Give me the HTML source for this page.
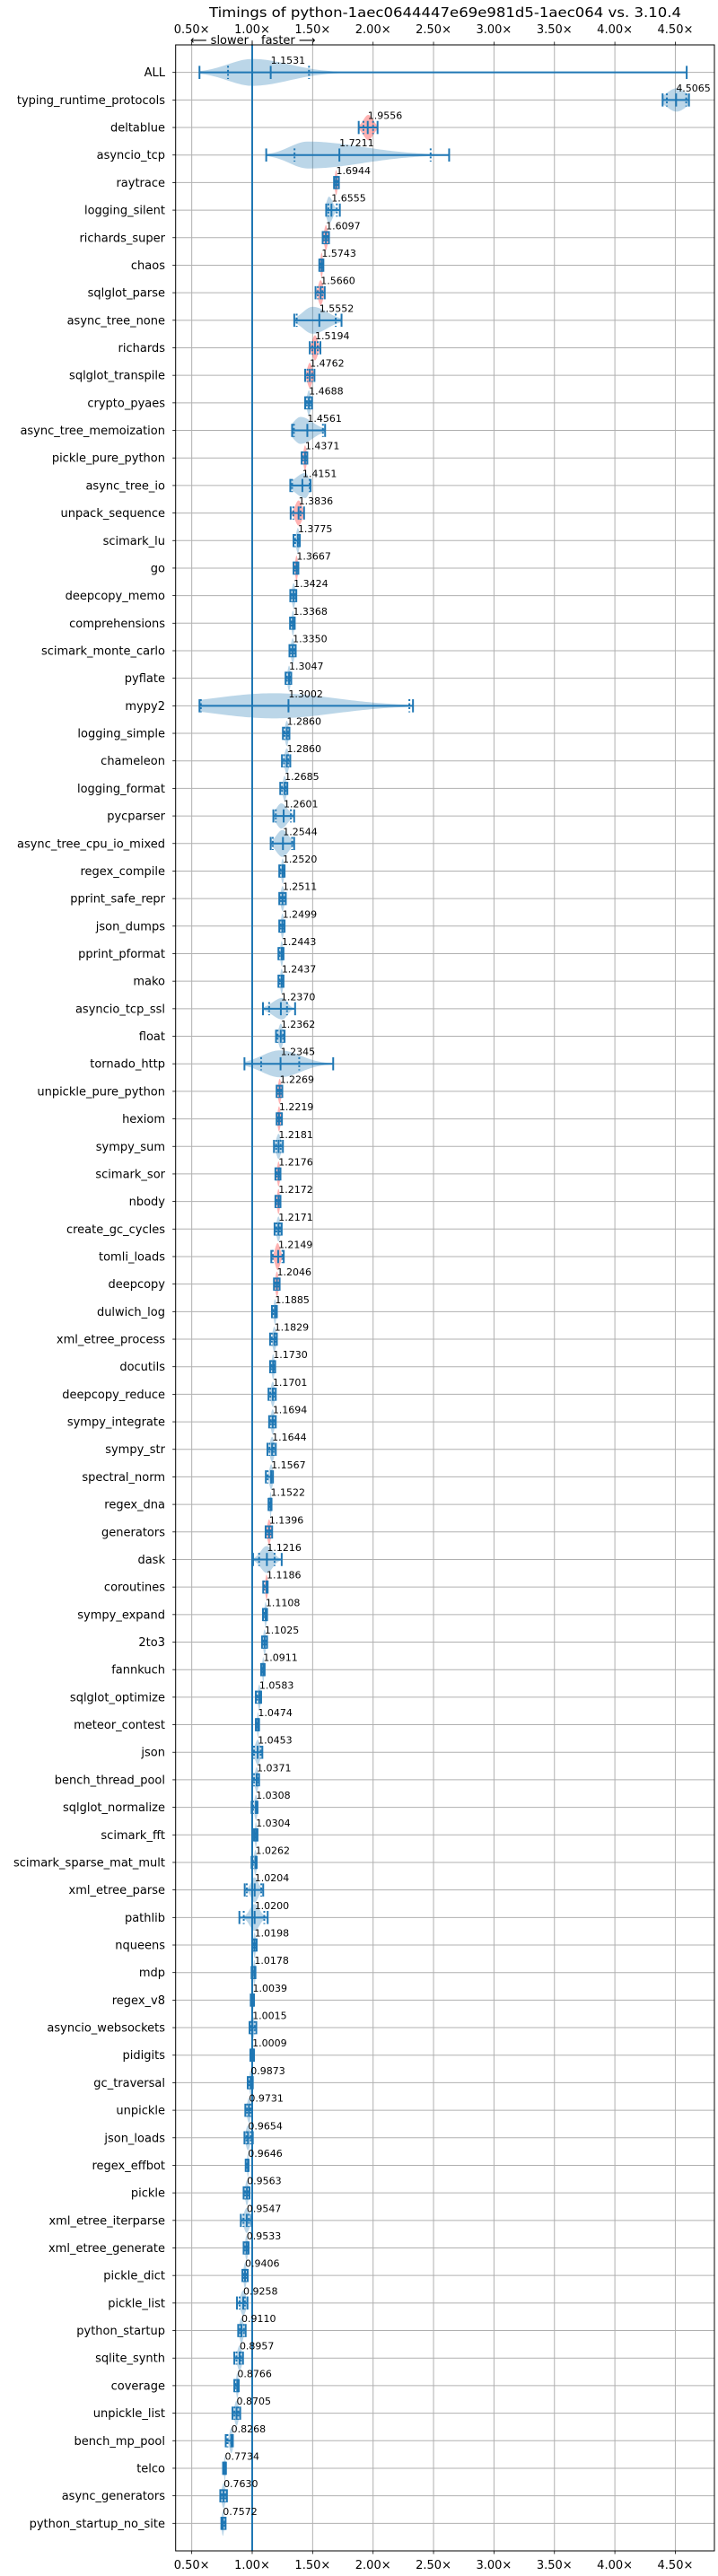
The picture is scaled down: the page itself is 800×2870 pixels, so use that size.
<!DOCTYPE html>
<html><head><meta charset="utf-8"><title>Timings chart</title>
<style>
html,body{margin:0;padding:0;background:#fff;}
svg{display:block;font-family:"DejaVu Sans","Liberation Sans",sans-serif;}
</style></head>
<body>
<svg id="chart" width="800" height="2870" viewBox="0 0 800 2870" xmlns="http://www.w3.org/2000/svg">
<rect x="0" y="0" width="800" height="2870" fill="#fff"/>
<text x="496" y="19" text-anchor="middle" font-size="15" textLength="526" lengthAdjust="spacingAndGlyphs">Timings of python-1aec0644447e69e981d5-1aec064 vs. 3.10.4</text>
<g id="grid"></g>
<g id="violins"></g>
<g id="axes"></g>
</svg>
<script>
const benchmarks = ["ALL","typing_runtime_protocols","deltablue","asyncio_tcp","raytrace","logging_silent","richards_super","chaos","sqlglot_parse","async_tree_none","richards","sqlglot_transpile","crypto_pyaes","async_tree_memoization","pickle_pure_python","async_tree_io","unpack_sequence","scimark_lu","go","deepcopy_memo","comprehensions","scimark_monte_carlo","pyflate","mypy2","logging_simple","chameleon","logging_format","pycparser","async_tree_cpu_io_mixed","regex_compile","pprint_safe_repr","json_dumps","pprint_pformat","mako","asyncio_tcp_ssl","float","tornado_http","unpickle_pure_python","hexiom","sympy_sum","scimark_sor","nbody","create_gc_cycles","tomli_loads","deepcopy","dulwich_log","xml_etree_process","docutils","deepcopy_reduce","sympy_integrate","sympy_str","spectral_norm","regex_dna","generators","dask","coroutines","sympy_expand","2to3","fannkuch","sqlglot_optimize","meteor_contest","json","bench_thread_pool","sqlglot_normalize","scimark_fft","scimark_sparse_mat_mult","xml_etree_parse","pathlib","nqueens","mdp","regex_v8","asyncio_websockets","pidigits","gc_traversal","unpickle","json_loads","regex_effbot","pickle","xml_etree_iterparse","xml_etree_generate","pickle_dict","pickle_list","python_startup","sqlite_synth","coverage","unpickle_list","bench_mp_pool","telco","async_generators","python_startup_no_site"];
const medians = [1.1531,4.5065,1.9556,1.7211,1.6944,1.6555,1.6097,1.5743,1.5660,1.5552,1.5194,1.4762,1.4688,1.4561,1.4371,1.4151,1.3836,1.3775,1.3667,1.3424,1.3368,1.3350,1.3047,1.3002,1.2860,1.2860,1.2685,1.2601,1.2544,1.2520,1.2511,1.2499,1.2443,1.2437,1.2370,1.2362,1.2345,1.2269,1.2219,1.2181,1.2176,1.2172,1.2171,1.2149,1.2046,1.1885,1.1829,1.1730,1.1701,1.1694,1.1644,1.1567,1.1522,1.1396,1.1216,1.1186,1.1108,1.1025,1.0911,1.0583,1.0474,1.0453,1.0371,1.0308,1.0304,1.0262,1.0204,1.0200,1.0198,1.0178,1.0039,1.0015,1.0009,0.9873,0.9731,0.9654,0.9646,0.9563,0.9547,0.9533,0.9406,0.9258,0.9110,0.8957,0.8766,0.8705,0.8268,0.7734,0.7630,0.7572];
const mins = [0.564,4.395,1.881,1.116,1.677,1.612,1.583,1.555,1.524,1.348,1.476,1.438,1.438,1.330,1.409,1.315,1.318,1.342,1.342,1.315,1.313,1.308,1.276,0.564,1.254,1.246,1.232,1.175,1.153,1.224,1.224,1.224,1.217,1.217,1.089,1.197,0.936,1.202,1.202,1.180,1.192,1.192,1.185,1.158,1.180,1.163,1.148,1.148,1.135,1.140,1.126,1.113,1.135,1.111,1.007,1.091,1.089,1.081,1.074,1.030,1.030,1.002,1.002,0.995,1.015,0.995,0.938,0.894,1.002,0.995,0.988,0.978,0.985,0.963,0.943,0.936,0.946,0.929,0.906,0.929,0.919,0.874,0.884,0.852,0.852,0.837,0.781,0.759,0.736,0.745];
const maxs = [4.594,4.613,2.037,2.629,1.717,1.725,1.635,1.589,1.600,1.739,1.564,1.515,1.495,1.603,1.456,1.483,1.429,1.394,1.382,1.365,1.352,1.360,1.323,2.330,1.308,1.315,1.291,1.347,1.347,1.268,1.278,1.268,1.259,1.259,1.355,1.268,1.670,1.249,1.246,1.254,1.234,1.234,1.244,1.261,1.227,1.204,1.204,1.190,1.195,1.195,1.195,1.172,1.160,1.165,1.244,1.128,1.123,1.123,1.103,1.074,1.057,1.084,1.057,1.044,1.044,1.037,1.091,1.128,1.037,1.027,1.015,1.034,1.015,1.005,1.000,1.005,0.970,0.978,0.995,0.970,0.963,0.961,0.946,0.924,0.889,0.901,0.840,0.783,0.791,0.780];
const q1s = [0.80,4.43,1.92,1.35,null,1.63,null,null,null,1.368,null,null,null,1.345,null,1.33,1.34,null,null,null,null,null,null,0.575,null,null,null,1.195,1.17,null,null,null,null,null,1.14,1.21,1.074,null,null,null,null,null,null,1.17,null,null,null,null,null,null,null,null,null,null,1.057,null,null,null,null,null,null,1.015,null,null,null,null,0.955,0.93,null,null,null,null,null,null,null,null,null,null,null,null,null,null,null,null,null,null,null,null,null,null];
const q3s = [1.47,4.59,2.00,2.476,null,1.70,null,null,null,1.691,null,null,null,1.585,null,1.475,1.40,null,null,null,null,null,null,2.30,null,null,null,1.32,1.33,null,null,null,null,null,1.288,1.255,1.389,null,null,null,null,null,null,1.25,null,null,null,null,null,null,null,null,null,null,1.185,null,null,null,null,null,null,1.07,null,null,null,null,1.075,1.10,null,null,null,null,null,null,null,null,null,null,null,null,null,null,null,null,null,null,null,null,null,null];
/* violin shape: peak location, left/right spread, peak half-height (px); null = narrow spindle */
const peaks = [1.0,4.51,1.96,1.46,null,1.635,null,null,null,1.5,null,null,null,1.40,null,1.44,null,null,null,null,null,null,null,1.18,null,null,null,1.24,1.25,null,null,null,null,null,1.25,null,1.23,null,null,null,null,null,null,1.21,null,null,null,null,null,null,null,null,null,null,1.12,null,null,null,null,null,null,null,null,null,null,null,1.02,1.02,null,null,null,null,null,null,null,null,null,null,null,null,null,null,null,null,null,null,null,null,null,null];
const spreadL = [0.2,0.08,0.04,0.15,null,0.02,null,null,null,0.08,null,null,null,0.06,null,0.08,null,null,null,null,null,null,null,0.5,null,null,null,0.04,0.05,null,null,null,null,null,0.08,null,0.15,null,null,null,null,null,null,0.02,null,null,null,null,null,null,null,null,null,null,0.05,null,null,null,null,null,null,null,null,null,null,null,0.03,0.04,null,null,null,null,null,null,null,null,null,null,null,null,null,null,null,null,null,null,null,null,null,null];
const spreadR = [0.3,0.08,0.04,0.45,null,0.03,null,null,null,0.12,null,null,null,0.1,null,0.03,null,null,null,null,null,null,null,0.5,null,null,null,0.05,0.05,null,null,null,null,null,0.04,null,0.17,null,null,null,null,null,null,0.02,null,null,null,null,null,null,null,null,null,null,0.05,null,null,null,null,null,null,null,null,null,null,null,0.03,0.04,null,null,null,null,null,null,null,null,null,null,null,null,null,null,null,null,null,null,null,null,null,null];
const peakHeights = [15,13,14,15,null,15,null,null,null,15,null,null,null,15,null,14,null,null,null,null,null,null,null,14,null,null,null,14,15,null,null,null,null,null,12,null,15,null,null,null,null,null,null,15,null,null,null,null,null,null,null,null,null,null,15,null,null,null,null,null,null,null,null,null,null,null,14,15,null,null,null,null,null,null,null,null,null,null,null,null,null,null,null,null,null,null,null,null,null,null];
const slowerBenchmarks = ["deltablue","raytrace","richards_super","chaos","sqlglot_parse","richards","sqlglot_transpile","pickle_pure_python","unpack_sequence","go","unpickle_pure_python","hexiom","scimark_sor","nbody","tomli_loads","deepcopy","generators","coroutines"];
const xTickValues = [0.5,1.0,1.5,2.0,2.5,3.0,3.5,4.0,4.5];
const xTickLabels = ["0.50×","1.00×","1.50×","2.00×","2.50×","3.00×","3.50×","4.00×","4.50×"];

const NS = "http://www.w3.org/2000/svg";
const L = 195.7, R = 796, T = 50, B = 2842;
const X0 = 281, XS = 134.7;
const ROW = (B - T) / (benchmarks.length + 1);
function xScale(v){ return X0 + (v - 1) * XS; }
function yScale(i){ return T + (i + 1) * ROW; }
function mk(tag, attrs, parent){
  const e = document.createElementNS(NS, tag);
  for (const k in attrs) e.setAttribute(k, attrs[k]);
  parent.appendChild(e);
  return e;
}
const grid = document.getElementById('grid');
const vg = document.getElementById('violins');
const ax = document.getElementById('axes');
const BLUE = "#1f77b4";

// vertical grid + tick labels
xTickValues.forEach((v, k) => {
  const x = xScale(v);
  const gl = mk('line', {x1:x, x2:x, y1:T, y2:B, stroke:'#b0b0b0', 'stroke-width':1}, grid);
  
  
  mk('line', {x1:x, x2:x, y1:T-3.5, y2:T, stroke:'#000', 'stroke-width':0.8}, ax);
  mk('line', {x1:x, x2:x, y1:B, y2:B+3.5, stroke:'#000', 'stroke-width':0.8}, ax);
  const tt = mk('text', {x:x, y:37, 'text-anchor':'middle', 'font-size':13}, ax);
  tt.textContent = xTickLabels[k];
  
  
  const tb = mk('text', {x:x, y:2862, 'text-anchor':'middle', 'font-size':13}, ax);
  tb.textContent = xTickLabels[k];
  
  
});
// horizontal grid + y labels
benchmarks.forEach((b, i) => {
  const y = yScale(i);
  const gl = mk('line', {x1:L, x2:R, y1:y, y2:y, stroke:'#b0b0b0', 'stroke-width':1}, grid);
  
  
  mk('line', {x1:L-3.5, x2:L, y1:y, y2:y, stroke:'#000', 'stroke-width':0.8}, ax);
  const t = mk('text', {x:184, y:y+4.5, 'text-anchor':'end', 'font-size':13}, ax);
  t.textContent = b;
  
  
});
// baseline 1.0 line
const base = mk('line', {x1:xScale(1), x2:xScale(1), y1:T, y2:B, stroke:BLUE, 'stroke-width':2}, grid);



// violins
benchmarks.forEach((b, i) => {
  const y = yScale(i);
  const med = medians[i], lo = mins[i], hi = maxs[i];
  const narrow = peaks[i] === null;
  const pk = narrow ? med : peaks[i];
  const sl = narrow ? Math.max((hi - lo) / 4, 0.006) : spreadL[i];
  const sr = narrow ? Math.max((hi - lo) / 4, 0.006) : spreadR[i];
  const vh = narrow ? 14 : peakHeights[i];
  const red = slowerBenchmarks.indexOf(b) >= 0;
  const N = 80, top = [], bot = [];
  for (let k = 0; k <= N; k++) {
    const v = lo + (hi - lo) * k / N;
    const s = v < pk ? sl : sr;
    const h = vh * Math.exp(-0.5 * Math.pow((v - pk) / s, 2));
    top.push(xScale(v).toFixed(2) + ',' + (y - h).toFixed(2));
    bot.unshift(xScale(v).toFixed(2) + ',' + (y + h).toFixed(2));
  }
  const poly = mk('polygon', {points: top.concat(bot).join(' '), fill: red ? 'rgba(255,0,0,0.3)' : 'rgba(31,119,180,0.3)'}, vg);
  
  
  const g = mk('g', {stroke:BLUE, 'stroke-width':2}, vg);
  
  
  mk('line', {x1:xScale(lo), x2:xScale(hi), y1:y, y2:y}, g);
  [lo, hi, med].forEach(v => mk('line', {x1:xScale(v), x2:xScale(v), y1:y-7.3, y2:y+7.3}, g));
  const qa = q1s[i] !== null ? q1s[i] : lo + (hi - lo) * 0.25;
  const qb = q3s[i] !== null ? q3s[i] : lo + (hi - lo) * 0.75;
  [qa, qb].forEach(v => mk('line', {x1:xScale(v), x2:xScale(v), y1:y-7.3, y2:y+7.3, 'stroke-dasharray':'2,2.5'}, g));
  const lab = mk('text', {x:xScale(med), y:y-9.5, 'font-size':11}, vg);
  lab.textContent = med.toFixed(4);
  
  
});

// spines
const frame = mk('rect', {x:L, y:T, width:R-L, height:B-T, fill:'none', stroke:'#000', 'stroke-width':1}, ax);


// slower / faster annotation
mk('line', {x1:xScale(1), x2:xScale(1), y1:T-5, y2:T, stroke:'#000', 'stroke-width':0.8}, ax);
const sl = mk('text', {x:277, y:49, 'text-anchor':'end', 'font-size':13}, ax);
sl.textContent = '⟵ slower';


const fs = mk('text', {x:291, y:49, 'font-size':13}, ax);
fs.textContent = 'faster ⟶';


</script>
</body></html>
